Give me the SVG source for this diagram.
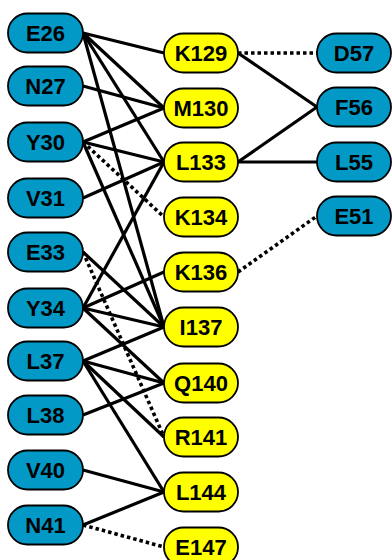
<svg xmlns="http://www.w3.org/2000/svg" width="392" height="560" viewBox="0 0 392 560">
<style>
.b{fill:#0399C6;stroke:#000;stroke-width:1.8}
.y{fill:#FFFF00;stroke:#000;stroke-width:1.8}
.t{font-family:"Liberation Sans",Arial,sans-serif;font-weight:bold;font-size:22px;text-anchor:middle;fill:#000}
.s{stroke:#000;stroke-width:3.2;fill:none}
.d{stroke:#000;stroke-width:3.6;fill:none;stroke-dasharray:3.5 3}
</style>
<rect width="392" height="560" fill="#fff"/>
<g id="connectors">
<line class="s" x1="83" y1="33" x2="164" y2="53"/>
<line class="s" x1="83" y1="33" x2="164" y2="108"/>
<line class="s" x1="83" y1="33" x2="164" y2="162"/>
<line class="s" x1="83" y1="33" x2="164" y2="327"/>
<line class="s" x1="83" y1="86" x2="164" y2="108"/>
<line class="s" x1="83" y1="142" x2="164" y2="108"/>
<line class="s" x1="83" y1="142" x2="164" y2="162"/>
<line class="s" x1="83" y1="142" x2="164" y2="327"/>
<line class="d" x1="83" y1="142" x2="164" y2="217"/>
<line class="s" x1="83" y1="198" x2="164" y2="162"/>
<line class="s" x1="83" y1="252" x2="164" y2="327"/>
<line class="d" x1="83" y1="252" x2="164" y2="437"/>
<line class="s" x1="83" y1="308" x2="164" y2="162"/>
<line class="s" x1="83" y1="308" x2="164" y2="272"/>
<line class="s" x1="83" y1="308" x2="164" y2="327"/>
<line class="s" x1="83" y1="308" x2="164" y2="383"/>
<line class="s" x1="83" y1="361" x2="164" y2="327"/>
<line class="s" x1="83" y1="361" x2="164" y2="383"/>
<line class="s" x1="83" y1="361" x2="164" y2="437"/>
<line class="s" x1="83" y1="361" x2="164" y2="492"/>
<line class="s" x1="83" y1="415" x2="164" y2="383"/>
<line class="s" x1="83" y1="470" x2="164" y2="492"/>
<line class="s" x1="83" y1="525" x2="164" y2="492"/>
<line class="d" x1="83" y1="525" x2="164" y2="547"/>
<line class="d" x1="238" y1="53" x2="317" y2="53"/>
<line class="s" x1="238" y1="53" x2="317" y2="107"/>
<line class="s" x1="238" y1="162" x2="317" y2="107"/>
<line class="s" x1="238" y1="162" x2="317" y2="162"/>
<line class="d" x1="238" y1="272" x2="317" y2="216"/>
</g>
<g id="E26"><rect class="b" x="8" y="13.5" width="75" height="39" rx="19.5"/><text class="t" x="45.5" y="41">E26</text></g>
<g id="N27"><rect class="b" x="8" y="66.5" width="75" height="39" rx="19.5"/><text class="t" x="45.5" y="94">N27</text></g>
<g id="Y30"><rect class="b" x="8" y="122.5" width="75" height="39" rx="19.5"/><text class="t" x="45.5" y="150">Y30</text></g>
<g id="V31"><rect class="b" x="8" y="178.5" width="75" height="39" rx="19.5"/><text class="t" x="45.5" y="206">V31</text></g>
<g id="E33"><rect class="b" x="8" y="232.5" width="75" height="39" rx="19.5"/><text class="t" x="45.5" y="260">E33</text></g>
<g id="Y34"><rect class="b" x="8" y="288.5" width="75" height="39" rx="19.5"/><text class="t" x="45.5" y="316">Y34</text></g>
<g id="L37"><rect class="b" x="8" y="341.5" width="75" height="39" rx="19.5"/><text class="t" x="45.5" y="369">L37</text></g>
<g id="L38"><rect class="b" x="8" y="395.5" width="75" height="39" rx="19.5"/><text class="t" x="45.5" y="423">L38</text></g>
<g id="V40"><rect class="b" x="8" y="450.5" width="75" height="39" rx="19.5"/><text class="t" x="45.5" y="478">V40</text></g>
<g id="N41"><rect class="b" x="8" y="505.5" width="75" height="39" rx="19.5"/><text class="t" x="45.5" y="533">N41</text></g>
<g id="K129"><rect class="y" x="164" y="33.5" width="74" height="39" rx="19.5"/><text class="t" x="201" y="61">K129</text></g>
<g id="M130"><rect class="y" x="164" y="88.5" width="74" height="39" rx="19.5"/><text class="t" x="201" y="116">M130</text></g>
<g id="L133"><rect class="y" x="164" y="142.5" width="74" height="39" rx="19.5"/><text class="t" x="201" y="170">L133</text></g>
<g id="K134"><rect class="y" x="164" y="197.5" width="74" height="39" rx="19.5"/><text class="t" x="201" y="225">K134</text></g>
<g id="K136"><rect class="y" x="164" y="252.5" width="74" height="39" rx="19.5"/><text class="t" x="201" y="280">K136</text></g>
<g id="I137"><rect class="y" x="164" y="307.5" width="74" height="39" rx="19.5"/><text class="t" x="201" y="335">I137</text></g>
<g id="Q140"><rect class="y" x="164" y="363.5" width="74" height="39" rx="19.5"/><text class="t" x="201" y="391">Q140</text></g>
<g id="R141"><rect class="y" x="164" y="417.5" width="74" height="39" rx="19.5"/><text class="t" x="201" y="445">R141</text></g>
<g id="L144"><rect class="y" x="164" y="472.5" width="74" height="39" rx="19.5"/><text class="t" x="201" y="500">L144</text></g>
<g id="E147"><rect class="y" x="164" y="527.5" width="74" height="39" rx="19.5"/><text class="t" x="201" y="555">E147</text></g>
<g id="D57"><rect class="b" x="317" y="33.5" width="74" height="39" rx="19.5"/><text class="t" x="354" y="61">D57</text></g>
<g id="F56"><rect class="b" x="317" y="87.5" width="74" height="39" rx="19.5"/><text class="t" x="354" y="115">F56</text></g>
<g id="L55"><rect class="b" x="317" y="142.5" width="74" height="39" rx="19.5"/><text class="t" x="354" y="170">L55</text></g>
<g id="E51"><rect class="b" x="317" y="196.5" width="74" height="39" rx="19.5"/><text class="t" x="354" y="224">E51</text></g>
</svg>
